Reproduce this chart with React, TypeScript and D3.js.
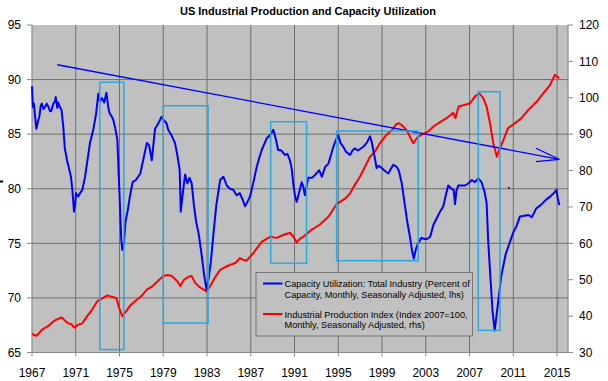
import React from "react";
import * as d3 from "d3";

const W = 608;
const H = 381;

const yearTicks = [1967, 1971, 1975, 1979, 1983, 1987, 1991, 1995, 1999, 2003, 2007, 2011, 2015];
const leftTicks = [65, 70, 75, 80, 85, 90, 95];
const rightTicks = [30, 40, 50, 60, 70, 80, 90, 100, 110, 120];

// Capacity utilization (lhs): [year, percent]
const capUtil: [number, number][] = [
  [1967.0, 89.4], [1967.08, 87.5], [1967.17, 87.8], [1967.25, 86.9], [1967.4, 85.5], [1967.55, 86.2],
  [1967.67, 86.6], [1967.8, 87.6], [1967.9, 87.8], [1968.05, 87.3], [1968.2, 87.5], [1968.35, 87.8],
  [1968.5, 87.5], [1968.65, 87.1], [1968.75, 87.1], [1968.95, 87.8], [1969.1, 88.0], [1969.17, 88.4],
  [1969.31, 87.4], [1969.4, 87.9], [1969.5, 87.6], [1969.7, 87.2], [1969.86, 85.7], [1970.0, 83.7],
  [1970.2, 82.6], [1970.35, 82.0], [1970.56, 81.1], [1970.7, 79.8], [1970.84, 77.9], [1970.95, 78.6],
  [1971.02, 79.6], [1971.23, 79.3], [1971.4, 79.6], [1971.6, 79.9], [1971.85, 81.1], [1972.1, 82.8],
  [1972.3, 84.2], [1972.6, 85.4], [1972.85, 86.8], [1973.06, 88.7], [1973.2, 88.0], [1973.4, 88.3],
  [1973.6, 87.9], [1973.8, 88.8], [1974.0, 87.3], [1974.1, 86.9], [1974.3, 86.6], [1974.43, 86.3],
  [1974.6, 85.6], [1974.8, 84.5], [1975.0, 79.5], [1975.15, 75.5], [1975.25, 74.4], [1975.4, 75.0],
  [1975.55, 77.0], [1975.75, 78.0], [1975.95, 79.3], [1976.2, 80.6], [1976.5, 80.8], [1976.9, 81.4],
  [1977.2, 82.8], [1977.5, 84.2], [1977.7, 84.0], [1977.95, 82.6], [1978.25, 85.5], [1978.5, 85.9],
  [1978.85, 86.6], [1979.1, 86.2], [1979.3, 86.0], [1979.45, 85.4], [1979.7, 85.0], [1980.07, 84.2],
  [1980.3, 83.0], [1980.5, 81.7], [1980.6, 77.9], [1980.75, 79.3], [1981.0, 81.3], [1981.2, 80.5],
  [1981.4, 81.0], [1981.6, 80.5], [1981.8, 78.5], [1982.0, 77.0], [1982.25, 75.8], [1982.5, 74.0],
  [1982.75, 72.0], [1982.95, 70.8], [1983.15, 71.8], [1983.35, 73.3], [1983.6, 76.0], [1983.85, 78.5],
  [1984.2, 80.8], [1984.5, 81.1], [1984.8, 80.3], [1985.1, 80.0], [1985.4, 79.9], [1985.7, 79.4],
  [1986.0, 79.6], [1986.3, 78.9], [1986.47, 78.4], [1986.7, 78.8], [1986.93, 79.3], [1987.2, 80.4],
  [1987.54, 82.0], [1987.8, 82.9], [1988.0, 83.55], [1988.45, 84.6], [1988.75, 84.9], [1989.06, 85.4],
  [1989.3, 84.5], [1989.5, 83.55], [1989.8, 83.5], [1990.12, 83.1], [1990.35, 83.2], [1990.58, 82.6],
  [1990.75, 81.8], [1990.88, 80.5], [1991.05, 79.3], [1991.2, 78.8], [1991.45, 79.8], [1991.65, 80.6],
  [1991.8, 80.2], [1991.95, 79.4], [1992.25, 81.0], [1992.6, 81.0], [1993.0, 81.4], [1993.25, 81.7],
  [1993.5, 81.1], [1993.8, 82.0], [1994.1, 82.3], [1994.55, 83.85], [1994.8, 84.5], [1995.0, 84.9],
  [1995.2, 84.2], [1995.45, 83.85], [1995.7, 83.4], [1996.07, 83.1], [1996.3, 83.5], [1996.5, 83.7],
  [1996.8, 83.5], [1997.3, 83.85], [1997.6, 84.2], [1997.9, 84.8], [1998.05, 84.3], [1998.2, 83.55],
  [1998.4, 82.5], [1998.5, 81.9], [1998.7, 82.1], [1998.97, 81.9], [1999.3, 81.6], [1999.57, 81.4],
  [1999.8, 81.8], [2000.03, 82.2], [2000.35, 82.0], [2000.55, 81.6], [2000.8, 80.5], [2001.1, 78.4],
  [2001.3, 77.0], [2001.55, 75.6], [2001.75, 74.3], [2001.9, 73.6], [2002.1, 74.5], [2002.3, 75.0],
  [2002.6, 75.5], [2002.9, 75.4], [2003.1, 75.4], [2003.4, 75.6], [2003.7, 76.7], [2004.0, 77.3],
  [2004.3, 77.9], [2004.6, 78.4], [2004.85, 79.5], [2005.05, 80.3], [2005.35, 80.0], [2005.55, 79.9],
  [2005.67, 78.6], [2005.8, 79.8], [2005.97, 80.3], [2006.3, 80.3], [2006.6, 80.3], [2006.9, 80.5],
  [2007.2, 80.8], [2007.5, 80.6], [2007.8, 80.95], [2008.1, 80.6], [2008.35, 79.8], [2008.56, 78.7],
  [2008.7, 75.3], [2008.9, 72.0], [2009.1, 68.8], [2009.3, 67.0], [2009.6, 69.5], [2009.9, 72.0],
  [2010.3, 74.0], [2010.75, 75.3], [2011.0, 76.0], [2011.3, 76.6], [2011.6, 77.45], [2011.9, 77.5],
  [2012.36, 77.6], [2012.7, 77.4], [2013.1, 78.2], [2013.5, 78.5], [2014.0, 79.0], [2014.4, 79.3],
  [2014.8, 79.7], [2014.95, 79.9], [2015.05, 79.2], [2015.2, 78.5],
];

// Industrial production index (rhs): [year, index 2007=100]
const indProd: [number, number][] = [
  [1967.0, 35.1], [1967.2, 34.8], [1967.4, 34.6], [1967.65, 35.3], [1967.9, 36.2], [1968.2, 36.8],
  [1968.5, 37.3], [1968.9, 38.4], [1969.2, 39.0], [1969.5, 39.4], [1969.75, 39.6], [1970.1, 38.5],
  [1970.4, 37.9], [1970.6, 37.8], [1970.85, 36.8], [1971.0, 37.2], [1971.2, 37.6], [1971.6, 38.0],
  [1972.0, 39.8], [1972.5, 41.8], [1973.0, 44.2], [1973.5, 45.0], [1973.9, 45.7], [1974.3, 45.3],
  [1974.7, 45.0], [1975.0, 42.0], [1975.25, 40.0], [1975.6, 41.3], [1976.0, 43.0], [1976.5, 44.3],
  [1977.0, 45.5], [1977.5, 47.3], [1978.0, 48.2], [1978.5, 49.6], [1979.0, 51.0], [1979.4, 51.3],
  [1979.8, 51.0], [1980.3, 49.5], [1980.55, 48.3], [1980.9, 50.0], [1981.3, 50.8], [1981.6, 51.0],
  [1981.9, 49.2], [1982.3, 48.0], [1982.7, 47.3], [1982.95, 46.8], [1983.3, 48.3], [1983.7, 50.5],
  [1984.2, 52.7], [1984.7, 53.5], [1985.2, 54.2], [1985.6, 54.6], [1986.0, 55.9], [1986.3, 55.5],
  [1986.6, 55.2], [1987.2, 57.2], [1988.0, 60.4], [1988.75, 61.8], [1989.36, 61.5], [1989.97, 62.3],
  [1990.58, 62.9], [1990.9, 61.8], [1991.2, 60.2], [1991.5, 61.3], [1991.8, 61.8], [1992.55, 63.7],
  [1993.3, 65.1], [1994.1, 67.3], [1994.85, 70.8], [1995.15, 71.4], [1995.6, 72.2], [1996.07, 73.7],
  [1996.5, 76.0], [1996.98, 78.3], [1997.45, 81.1], [1997.9, 83.8], [1998.35, 85.2], [1998.8, 87.5],
  [1999.4, 89.8], [1999.9, 91.1], [2000.33, 92.8], [2000.55, 93.0], [2000.8, 92.5], [2001.25, 91.1],
  [2001.6, 89.0], [2001.85, 87.5], [2002.3, 89.3], [2002.6, 89.8], [2003.2, 90.7], [2003.7, 92.1],
  [2004.3, 93.3], [2004.9, 94.4], [2005.5, 95.9], [2005.7, 94.4], [2006.0, 97.6], [2006.6, 98.1],
  [2007.05, 98.5], [2007.5, 100.4], [2007.9, 101.2], [2008.25, 99.9], [2008.56, 97.6], [2008.87, 93.0],
  [2009.17, 87.5], [2009.5, 83.8], [2009.72, 85.7], [2010.1, 88.4], [2010.5, 91.6], [2011.15, 93.0],
  [2011.75, 94.4], [2012.36, 96.6], [2013.13, 98.9], [2013.74, 101.2], [2014.35, 103.5], [2014.8, 106.3],
  [2014.95, 105.9], [2015.2, 105.4],
];

// Trend line (lhs units): start and end
const trend: [number, number][] = [[1969.31, 91.36], [2015.2, 82.7]];
// Arrow barbs (lhs units) ending at trend end
const arrowBarbs: [number, number][] = [[2013.07, 83.71], [2013.07, 82.48]];

// Highlight boxes (years, lhs units): [x0, x1, yTop, yBottom]
const boxes: [number, number, number, number][] = [
  [1973.2, 1975.4, 89.75, 65.27],
  [1979.0, 1983.1, 87.6, 67.7],
  [1988.82, 1992.1, 86.14, 73.17],
  [1994.85, 2002.31, 85.29, 73.41],
  [2007.8, 2009.78, 88.89, 67.03],
];

const legendLines = [
  ["Capacity Utilization: Total Industry (Percent of", "Capacity, Monthly, Seasonally Adjusted, lhs)"],
  ["Industrial Production Index (Index 2007=100,", "Monthly, Seasonally Adjusted, rhs)"],
];
const seriesColors = ["#0000ff", "#ff0000"];

export default function App() {
  const left = 32, right = 568, top = 25, bottom = 352.5;
  const x = d3.scaleLinear().domain([1967, 2016]).range([left, right]);
  const yL = d3.scaleLinear().domain([65, 95]).range([bottom, top]);
  const yR = d3.scaleLinear().domain([30, 120]).range([bottom, top]);

  const lineL = d3.line<[number, number]>().x((d) => x(d[0])).y((d) => yL(d[1]));
  const lineR = d3.line<[number, number]>().x((d) => x(d[0])).y((d) => yR(d[1]));

  const font = "'Liberation Sans', Arial, sans-serif";
  const grid = "#6f6f6f";
  const axis = "#8a8a8a";
  const tEnd = trend[1];

  return (
    <svg width={W} height={H} style={{ position: "absolute", left: 0, top: 0, background: "#fff" }} fontFamily={font}>
      <rect x={left} y={top} width={right - left} height={bottom - top} fill="#c0c0c0" />
      {/* gridlines */}
      {leftTicks.slice(1, -1).map((v) => (
        <line key={"h" + v} x1={left} x2={right} y1={yL(v)} y2={yL(v)} stroke={grid} strokeWidth={1} />
      ))}
      {yearTicks.slice(1).map((yr) => (
        <line key={"v" + yr} x1={x(yr)} x2={x(yr)} y1={top} y2={bottom} stroke={grid} strokeWidth={1} />
      ))}
      {/* axes */}
      <line x1={left} x2={left} y1={top} y2={bottom} stroke={axis} strokeWidth={1.2} />
      <line x1={right} x2={right} y1={top} y2={bottom} stroke={axis} strokeWidth={1.2} />
      <line x1={left} x2={right} y1={bottom} y2={bottom} stroke={axis} strokeWidth={1.2} />
      {leftTicks.map((v) => (
        <g key={"lt" + v}>
          <line x1={left - 5} x2={left} y1={yL(v)} y2={yL(v)} stroke={axis} />
          <text x={21} y={yL(v)} dy="0.35em" fontSize={12} textAnchor="end" fill="#000">{v}</text>
        </g>
      ))}
      {rightTicks.map((v) => (
        <g key={"rt" + v}>
          <line x1={right} x2={right + 5} y1={yR(v)} y2={yR(v)} stroke={axis} />
          <text x={579} y={yR(v)} dy="0.35em" fontSize={12} textAnchor="start" fill="#000">{v}</text>
        </g>
      ))}
      {yearTicks.map((yr) => (
        <g key={"xt" + yr}>
          <line x1={x(yr)} x2={x(yr)} y1={bottom} y2={bottom + 4} stroke={axis} />
          <text x={x(yr)} y={377} fontSize={12} textAnchor="middle" fill="#000">{yr}</text>
        </g>
      ))}
      {/* series */}
      <path d={lineR(indProd) || ""} fill="none" stroke={seriesColors[1]} strokeWidth={2} strokeLinejoin="round" />
      <path d={lineL(capUtil) || ""} fill="none" stroke={seriesColors[0]} strokeWidth={2} strokeLinejoin="round" />
      {/* trend */}
      <path d={lineL(trend) || ""} fill="none" stroke="#0000ff" strokeWidth={1.3} />
      {arrowBarbs.map((b, i) => (
        <line key={"ab" + i} x1={x(b[0])} y1={yL(b[1])} x2={x(tEnd[0])} y2={yL(tEnd[1])} stroke="#0000ff" strokeWidth={1.3} />
      ))}
      {/* boxes */}
      {boxes.map((b, i) => (
        <rect key={"bx" + i} x={x(b[0])} y={yL(b[2])} width={x(b[1]) - x(b[0])} height={yL(b[3]) - yL(b[2])}
          fill="none" stroke="#2aa8e0" strokeWidth={1.5} />
      ))}
      {/* legend */}
      <rect x={256} y={272.5} width={216.5} height={63.5} fill="#c0c0c0" stroke="#777" strokeWidth={1} />
      {legendLines.map((ls, i) => (
        <g key={"lg" + i}>
          <line x1={263} x2={282.5} y1={283.5 + i * 30.5} y2={283.5 + i * 30.5} stroke={seriesColors[i]} strokeWidth={2} />
          {ls.map((t, j) => (
            <text key={j} x={284.5} y={287 + i * 30.5 + j * 10.8} fontSize={9.2} fill="#000">{t}</text>
          ))}
        </g>
      ))}
      {/* title */}
      <text x={308} y={15} fontSize={11} fontWeight="bold" textAnchor="middle" fill="#000">
        US Industrial Production and Capacity Utilization
      </text>
      {/* small stray marks */}
      <rect x={0} y={180.5} width={3} height={2} fill="#000" />
      <rect x={508} y={187} width={1.5} height={1.5} fill="#000" />
    </svg>
  );
}
